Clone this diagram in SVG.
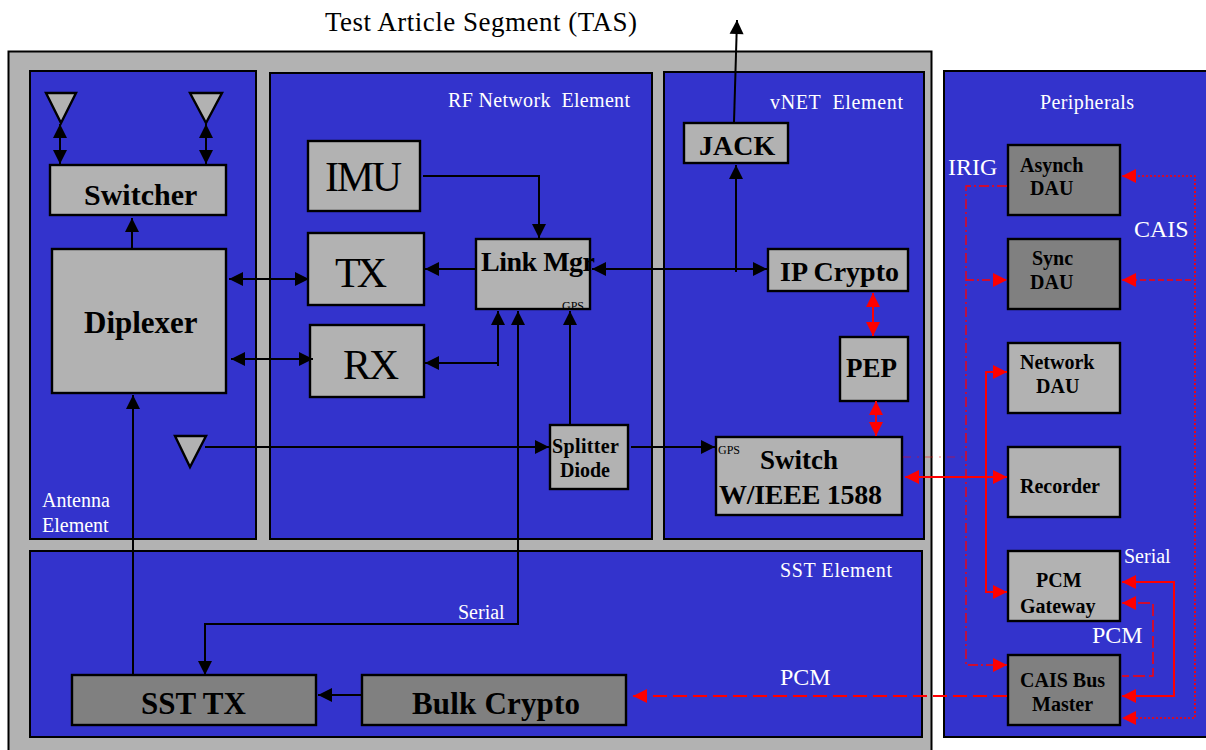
<svg xmlns="http://www.w3.org/2000/svg" width="1206" height="750" viewBox="0 0 1206 750">
<style>
text{font-family:"Liberation Serif","Times New Roman",serif;fill:#000}
.p{fill:#3333cc;stroke:#000;stroke-width:2}
.n{fill:#b2b2b2;stroke:#000;stroke-width:2.4}
.d{fill:#808080;stroke:#000;stroke-width:2.4}
.b{font-weight:bold}
.w{fill:#fff}
.k{fill:none;stroke:#000;stroke-width:2}
.r{fill:none;stroke:#f00;stroke-width:2}
.as{marker-start:url(#ka)}
.ae{marker-end:url(#kb)}
.rs{marker-start:url(#ra)}
.re{marker-end:url(#rb)}
</style>
<defs>
<marker id="kb" markerUnits="userSpaceOnUse" markerWidth="16" markerHeight="16" refX="15" refY="8" orient="auto"><path d="M1 1L15 8L1 15z" fill="#000"/></marker>
<marker id="ka" markerUnits="userSpaceOnUse" markerWidth="16" markerHeight="16" refX="1" refY="8" orient="auto"><path d="M15 1L1 8L15 15z" fill="#000"/></marker>
<marker id="rb" markerUnits="userSpaceOnUse" markerWidth="16" markerHeight="16" refX="15" refY="8" orient="auto"><path d="M1 1L15 8L1 15z" fill="#f00"/></marker>
<marker id="ra" markerUnits="userSpaceOnUse" markerWidth="16" markerHeight="16" refX="1" refY="8" orient="auto"><path d="M15 1L1 8L15 15z" fill="#f00"/></marker>
</defs>
<rect width="1206" height="750" fill="#fff"/>
<text x="325" y="31" font-size="27" textLength="312">Test Article Segment (TAS)</text>
<g id="backplane"><rect x="8.500" y="51.500" width="923" height="705" fill="#b2b2b2" stroke="#000" stroke-width="2"/></g>
<g id="antenna-element"><rect class="p" x="30" y="71" width="226" height="468"/><text class="w" x="42" y="507" font-size="20">Antenna</text><text class="w" x="42" y="532" font-size="20">Element</text></g>
<g id="rf-element"><rect class="p" x="270" y="73" width="382" height="466"/><text class="w" x="448" y="107" font-size="20" textLength="182" xml:space="preserve">RF Network  Element</text></g>
<g id="vnet-element"><rect class="p" x="664" y="72" width="260" height="467"/><text class="w" x="770" y="109" font-size="20" textLength="133" xml:space="preserve">vNET  Element</text></g>
<g id="sst-element"><rect class="p" x="30" y="551" width="892" height="186"/><text class="w" x="780" y="577" font-size="20" textLength="112">SST Element</text></g>
<g id="peripherals"><rect class="p" x="944" y="71" width="270" height="666"/><text class="w" x="1040" y="109" font-size="20" textLength="94">Peripherals</text></g>
<g id="antenna-1"><path d="M46 93H76L61 123z" class="n"/></g>
<g id="antenna-2"><path d="M190 93H222L206 123z" class="n"/></g>
<g id="antenna-3"><path d="M175 436H206L190 467z" class="n"/></g>
<g id="switcher"><rect class="n" x="50" y="165" width="176" height="50"/><text class="b" x="84" y="205" font-size="30">Switcher</text></g>
<g id="diplexer"><rect class="n" x="52" y="249" width="174" height="144"/><text class="b" x="84" y="333" font-size="31">Diplexer</text></g>
<g id="imu"><rect class="n" x="308" y="141" width="112" height="70"/><text x="325" y="191" font-size="42" textLength="77">IMU</text></g>
<g id="tx"><rect class="n" x="308" y="233" width="116" height="72"/><text x="335" y="287" font-size="42" textLength="52">TX</text></g>
<g id="rx"><rect class="n" x="310" y="325" width="114" height="72"/><text x="343" y="379" font-size="42" textLength="56">RX</text></g>
<g id="link-mgr"><rect class="n" x="476" y="239" width="114" height="70"/><text class="b" x="481" y="271" font-size="28" textLength="114">Link Mgr</text><text x="562" y="310" font-size="12">GPS</text></g>
<g id="splitter-diode"><rect class="n" x="550" y="425" width="78" height="64"/><text class="b" x="552" y="453" font-size="20" textLength="67">Splitter</text><text class="b" x="560" y="477" font-size="20">Diode</text></g>
<g id="jack"><rect class="n" x="684" y="123" width="104" height="40"/><text class="b" x="699" y="155" font-size="28">JACK</text></g>
<g id="ip-crypto"><rect class="n" x="768" y="249" width="140" height="42"/><text class="b" x="780" y="281" font-size="28">IP Crypto</text></g>
<g id="pep"><rect class="n" x="840" y="337" width="68" height="64"/><text class="b" x="846" y="377" font-size="27">PEP</text></g>
<g id="switch"><rect class="n" x="716" y="437" width="186" height="78"/><text x="718" y="454" font-size="12">GPS</text><text class="b" x="760" y="469" font-size="27">Switch</text><text class="b" x="719" y="504" font-size="28" textLength="163">W/IEEE 1588</text></g>
<g id="asynch-dau"><rect class="d" x="1008" y="145" width="112" height="70"/><text class="b" x="1020" y="172" font-size="20">Asynch</text><text class="b" x="1030" y="195" font-size="20">DAU</text></g>
<g id="sync-dau"><rect class="d" x="1008" y="239" width="112" height="70"/><text class="b" x="1032" y="265" font-size="20">Sync</text><text class="b" x="1030" y="289" font-size="20">DAU</text></g>
<g id="network-dau"><rect class="n" x="1008" y="343" width="112" height="70"/><text class="b" x="1020" y="369" font-size="20">Network</text><text class="b" x="1036" y="393" font-size="20">DAU</text></g>
<g id="recorder"><rect class="n" x="1008" y="447" width="112" height="70"/><text class="b" x="1020" y="493" font-size="20">Recorder</text></g>
<g id="pcm-gateway"><rect class="n" x="1008" y="551" width="112" height="70"/><text class="b" x="1036" y="587" font-size="20">PCM</text><text class="b" x="1020" y="613" font-size="20">Gateway</text></g>
<g id="cais-bus-master"><rect class="d" x="1008" y="655" width="112" height="70"/><text class="b" x="1020" y="687" font-size="20">CAIS Bus</text><text class="b" x="1032" y="711" font-size="20">Master</text></g>
<g id="sst-tx"><rect class="d" x="72" y="675" width="244" height="50"/><text class="b" x="141" y="714" font-size="31">SST TX</text></g>
<g id="bulk-crypto"><rect class="d" x="362" y="675" width="264" height="50"/><text class="b" x="412" y="714" font-size="31" textLength="168">Bulk Crypto</text></g>
<g id="connectors">
<path class="k as ae" d="M60 124V164"/>
<path class="k as ae" d="M206 124V164"/>
<path class="k ae" d="M132 249V218"/>
<path class="k as ae" d="M229 279H309"/>
<path class="k as ae" d="M231 359H313"/>
<path class="k ae" d="M423 176H539V238"/>
<path class="k ae" d="M476 269H425"/>
<path class="k as ae" d="M425 363H498V311"/>
<path class="k" d="M498 311V366"/>
<path class="k as ae" d="M518 311V624H205V675"/>
<path class="k ae" d="M570 424V311"/>
<path class="k ae" d="M205 447H549"/>
<path class="k ae" d="M631 447H715"/>
<path class="k as ae" d="M592 269H767"/>
<path class="k ae" d="M736 272V165"/>
<path class="k ae" d="M734 122L737 20"/>
<path class="k ae" d="M133 675V395"/>
<path class="k ae" d="M361 695H318"/>
<path class="r rs re" d="M873 293V336"/>
<path class="r rs re" d="M876 401V436"/>
<path class="r rs re" d="M905 477H1007"/>
<path class="r rs re" d="M1007 372H986V592H1007"/>
<path d="M903 457H966" fill="none" stroke="#f00" stroke-width="0.500" stroke-dasharray="8 6 2 6"/>
<path class="re" d="M1007 186H966V665H1007" fill="none" stroke="#f00" stroke-width="1.300" stroke-dasharray="10 3 2 3"/>
<path class="re" d="M966 280H1007" fill="none" stroke="#f00" stroke-width="1.500" stroke-dasharray="8 3 2 3"/>
<path d="M1122 176H1195V718H1122" fill="none" stroke="#f00" stroke-width="1.700" stroke-dasharray="2 2" style="marker-start:url(#ra);marker-end:url(#rb)"/>
<path class="rs" d="M1122 280H1195" fill="none" stroke="#f00" stroke-width="1.500" stroke-dasharray="6 3"/>
<path class="r rs re" d="M1122 582H1174V696H1122"/>
<path class="rs" d="M1122 603H1153V676H1122" fill="none" stroke="#f00" stroke-width="1.500" stroke-dasharray="12 4"/>
<path class="re" d="M1007 696H633" fill="none" stroke="#f00" stroke-width="2" stroke-dasharray="14 6"/>
</g>
<g id="labels">
<text class="w" x="948" y="175" font-size="24">IRIG</text>
<text class="w" x="1134" y="237" font-size="24">CAIS</text>
<text class="w" x="1124" y="563" font-size="20">Serial</text>
<text class="w" x="1092" y="643" font-size="24">PCM</text>
<text class="w" x="458" y="619" font-size="20">Serial</text>
<text class="w" x="780" y="685" font-size="24">PCM</text>
</g>
</svg>
